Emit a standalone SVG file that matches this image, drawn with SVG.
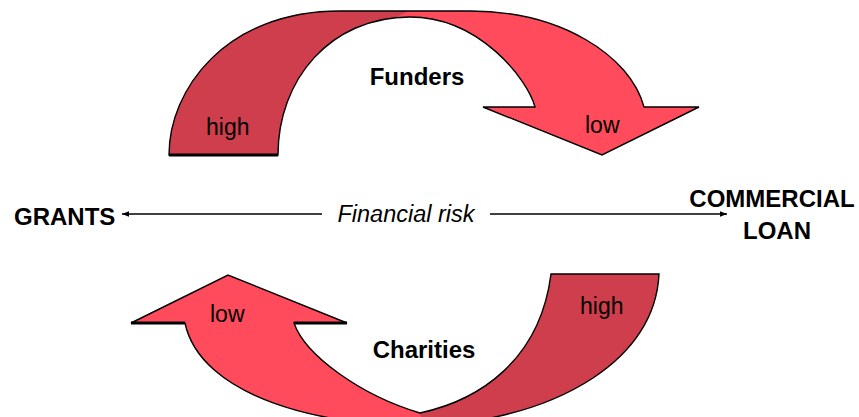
<svg xmlns="http://www.w3.org/2000/svg" width="859" height="417" viewBox="0 0 859 417">
  <defs>
    <style>
      .light { fill: #FF4B5B; }
      .dark { fill: #CF3E4D; }
      .edge { fill: none; stroke: #000; stroke-width: 1.4; stroke-linejoin: miter; }
      .heavy { stroke: #000; stroke-width: 3; }
      .lbl { font-family: "Liberation Sans", Arial, sans-serif; fill: #000; }
      .big { font-size: 24px; font-weight: bold; }
      .tag { font-size: 23px; }
      .axis { stroke: #000; stroke-width: 1.4; fill: none; }
    </style>
    <marker id="tip" viewBox="0 0 10 10" refX="10" refY="5" markerWidth="7" markerHeight="7" markerUnits="userSpaceOnUse" orient="auto">
      <path d="M0,1 L10,5 L0,9 Z" fill="#000"/>
    </marker>
    <!-- outline of the upper curved arrow -->
    <path id="topShape" d="M169,155 C169,90 225,11 340,11 L470,11 C560,11 630,55 644,107 L699,107 L602,155 L483,107 L535,107 C528,80 480,17 410,17 C330,17 278,80 278,155 Z"/>
    <!-- outline of the lower curved arrow -->
    <path id="bottomShape" d="M131,323 L228,275 L347,323 L294,323 C305,355 360,395 420,413 C480,400 540,360 551,274 L659,274 C655,360 560,415 440,425 C320,430 200,395 185,323 Z"/>
    <clipPath id="topDarkPart">
      <polygon points="0,0 410,0 408,11 378,27 378,170 0,170"/>
    </clipPath>
    <clipPath id="bottomDarkPart">
      <polygon points="420,413 428,440 700,440 700,250 500,250 500,330"/>
    </clipPath>
  </defs>

  <!-- Funders: high to low -->
  <g id="funders">
    <use href="#topShape" class="light"/>
    <use href="#topShape" class="dark" clip-path="url(#topDarkPart)"/>
    <use href="#topShape" class="edge"/>
    <line x1="169" y1="155" x2="278" y2="155" class="heavy"/>
    <text class="lbl tag" x="206" y="135">high</text>
    <text class="lbl tag" x="585" y="133">low</text>
    <text class="lbl big" x="417" y="85" text-anchor="middle" font-size="23">Funders</text>
  </g>

  <!-- Charities: high to low -->
  <g id="charities">
    <use href="#bottomShape" class="light"/>
    <use href="#bottomShape" class="dark" clip-path="url(#bottomDarkPart)"/>
    <use href="#bottomShape" class="edge"/>
    <line x1="131" y1="323" x2="185" y2="323" class="heavy"/>
    <line x1="294" y1="323" x2="347" y2="323" class="heavy"/>
    <text class="lbl tag" x="210" y="322">low</text>
    <text class="lbl tag" x="580" y="314">high</text>
    <text class="lbl big" x="424" y="358" text-anchor="middle" font-size="22">Charities</text>
  </g>

  <!-- end points of the risk scale -->
  <g id="grants">
    <text class="lbl big" x="14" y="225">GRANTS</text>
  </g>
  <g id="commercial-loan">
    <text class="lbl big" x="772" y="207" text-anchor="middle">COMMERCIAL</text>
    <text class="lbl big" x="777" y="239" text-anchor="middle">LOAN</text>
  </g>

  <!-- risk scale -->
  <g id="connectors">
    <line x1="322" y1="214" x2="122" y2="214" class="axis" marker-end="url(#tip)"/>
    <line x1="490" y1="214" x2="727" y2="214" class="axis" marker-end="url(#tip)"/>
    <text class="lbl" x="406" y="222" text-anchor="middle" font-size="23.5" font-style="italic">Financial risk</text>
  </g>
</svg>
